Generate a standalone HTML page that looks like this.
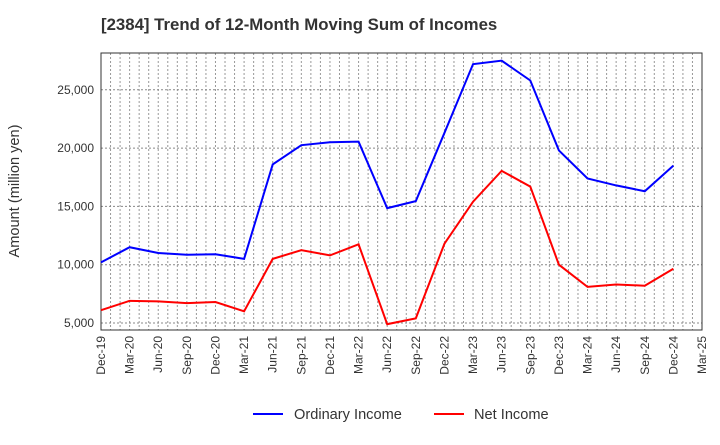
<!DOCTYPE html>
<html><head><meta charset="utf-8"><style>
body{margin:0;background:#fff;font-family:"Liberation Sans",sans-serif;}
</style></head><body>
<svg id="chart" width="720" height="440" xmlns="http://www.w3.org/2000/svg" font-family="Liberation Sans, sans-serif">
<text x="101" y="30" font-size="16.8" font-weight="bold" fill="#333">[2384]  Trend of 12-Month Moving Sum of Incomes</text>
<g id="grid"></g><g id="axes"></g><g id="series"></g>
<text transform="translate(19,191) rotate(-90)" text-anchor="middle" font-size="14.6" fill="#333">Amount (million yen)</text>
<g>
<line x1="253" y1="414" x2="283" y2="414" stroke="#0000ff" stroke-width="2"/>
<text x="294" y="419" font-size="14.6" fill="#333">Ordinary Income</text>
<line x1="434" y1="414" x2="464" y2="414" stroke="#ff0000" stroke-width="2"/>
<text x="474" y="419" font-size="14.6" fill="#333">Net Income</text>
</g>
</svg>
<script>
const xLabels=["Dec-19","Mar-20","Jun-20","Sep-20","Dec-20","Mar-21","Jun-21","Sep-21","Dec-21","Mar-22","Jun-22","Sep-22","Dec-22","Mar-23","Jun-23","Sep-23","Dec-23","Mar-24","Jun-24","Sep-24","Dec-24","Mar-25"];
const yTicks=[5000,10000,15000,20000,25000];
const ordinaryIncome=[10200,11500,11000,10850,10900,10500,18600,20250,20500,20550,14850,15450,21300,27200,27500,25800,19800,17400,16800,16300,18500];
const netIncome=[6100,6900,6850,6700,6800,6000,10500,11250,10800,11750,4900,5400,11800,15400,18050,16700,10000,8100,8300,8200,9650];
const L=101,R=702,T=53,B=330;
const NS="http://www.w3.org/2000/svg";
function xq(i){return L+(R-L)*i/21;}
function y(v){return 323-(v-5000)/5000*58.3;}
function mk(tag,attrs,parent){const e=document.createElementNS(NS,tag);for(const k in attrs)e.setAttribute(k,attrs[k]);parent.appendChild(e);return e;}
const grid=document.getElementById('grid'),axes=document.getElementById('axes'),ser=document.getElementById('series');
for(let m=1;m<63;m++){const x=L+(R-L)*m/63;const g=mk('line',{x1:x,x2:x,y1:T,y2:B,stroke:'#999','stroke-dasharray':'2,2','stroke-width':1},grid);

}
yTicks.forEach(v=>{const g=mk('line',{x1:L,x2:R,y1:y(v),y2:y(v),stroke:'#888','stroke-dasharray':'2,2','stroke-width':1},grid);


const t=mk('text',{x:L-7,y:y(v)+4,'text-anchor':'end','font-size':12,fill:'#333'},axes);t.textContent=v.toLocaleString('en-US');

});
const fr=mk('rect',{x:L,y:T,width:R-L,height:B-T,fill:'none',stroke:'#333','stroke-width':1},axes);


xLabels.forEach((s,i)=>{const x=xq(i);const t=mk('text',{transform:`translate(${x+4},${B+6}) rotate(-90)`,'text-anchor':'end','font-size':12,fill:'#333'},axes);t.textContent=s;

});
function line(d,c,n){const p=mk('polyline',{points:d.map((v,i)=>xq(i)+','+y(v)).join(' '),fill:'none',stroke:c,'stroke-width':2},ser);

}
line(ordinaryIncome,'#0000ff','ordinary-income-line');
line(netIncome,'#ff0000','net-income-line');
</script>
</body></html>
